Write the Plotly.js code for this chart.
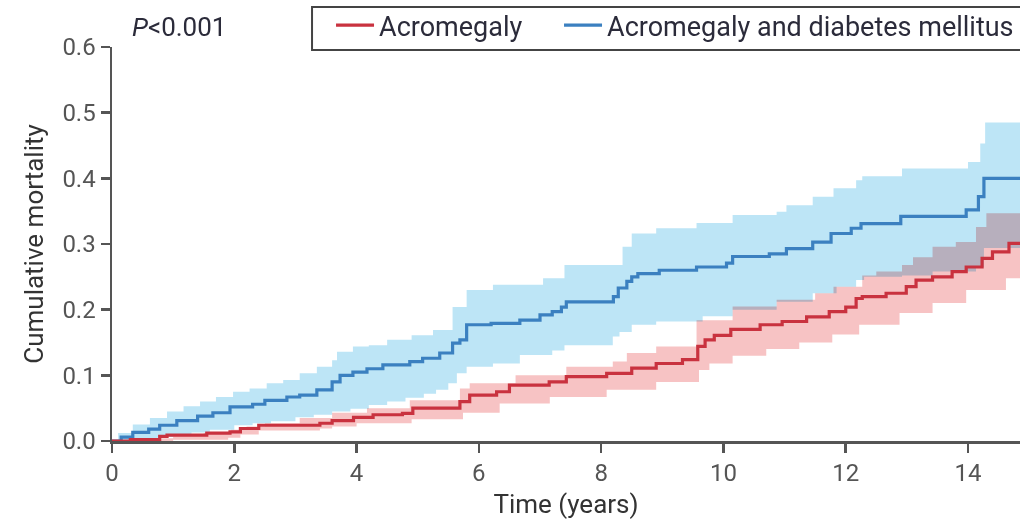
<!DOCTYPE html>
<html>
<head>
<meta charset="utf-8">
<script src="https://cdn.plot.ly/plotly-3.0.1.min.js"></script>
<style>html,body{margin:0;padding:0;background:#fff;}#chart{width:1020px;height:519px;}</style>
</head>
<body>
<div id="chart"></div>
<script>
// Acromegaly and diabetes mellitus: cumulative mortality (step), with 95% CI
var dmT = [0, 0.15, 0.34, 0.6, 0.78, 1.06, 1.4, 1.65, 1.93, 2.3, 2.5, 2.86, 3.07, 3.35, 3.6, 3.73, 3.94, 4.17, 4.43, 4.87, 5.08, 5.36, 5.57, 5.69, 5.8, 6.2, 6.67, 7.0, 7.2, 7.35, 7.43, 8.2, 8.28, 8.42, 8.5, 8.6, 8.95, 9.56, 10.05, 10.15, 10.75, 11.03, 11.46, 11.76, 12.09, 12.25, 12.9, 13.97, 14.17, 14.26, 14.85];
var dmY = [0, 0.006, 0.013, 0.018, 0.024, 0.031, 0.038, 0.043, 0.052, 0.056, 0.062, 0.067, 0.070, 0.078, 0.090, 0.100, 0.105, 0.110, 0.116, 0.121, 0.126, 0.134, 0.149, 0.154, 0.177, 0.179, 0.184, 0.192, 0.197, 0.204, 0.212, 0.220, 0.233, 0.243, 0.250, 0.255, 0.260, 0.265, 0.271, 0.281, 0.285, 0.293, 0.303, 0.316, 0.324, 0.331, 0.342, 0.352, 0.372, 0.400, 0.400];
var dmHiT = [0, 0.1, 0.34, 0.62, 0.9, 1.17, 1.44, 1.7, 1.98, 2.25, 2.53, 2.8, 3.07, 3.35, 3.6, 3.68, 3.94, 4.2, 4.5, 4.9, 5.25, 5.57, 5.8, 6.23, 7.05, 7.4, 8.35, 8.5, 8.9, 9.56, 10.15, 10.87, 11.03, 11.46, 11.8, 12.17, 12.27, 12.92, 14.0, 14.2, 14.28, 14.85];
var dmHiY = [0, 0.012, 0.025, 0.035, 0.045, 0.053, 0.060, 0.067, 0.075, 0.080, 0.088, 0.093, 0.103, 0.113, 0.123, 0.136, 0.144, 0.146, 0.154, 0.161, 0.169, 0.204, 0.230, 0.238, 0.248, 0.268, 0.296, 0.316, 0.324, 0.332, 0.344, 0.349, 0.359, 0.372, 0.385, 0.397, 0.403, 0.415, 0.425, 0.453, 0.485, 0.485];
var dmLoT = [0, 0.5, 0.75, 1.0, 1.3, 1.6, 2.0, 2.3, 2.6, 3.0, 3.3, 3.6, 3.9, 4.2, 4.5, 4.8, 5.1, 5.3, 5.5, 5.64, 5.8, 6.23, 6.67, 7.2, 7.4, 8.19, 8.3, 8.5, 8.9, 9.66, 10.15, 10.87, 11.46, 11.85, 12.17, 12.3, 12.92, 13.42, 14.13, 14.26, 14.85];
var dmLoY = [0, 0.002, 0.006, 0.010, 0.013, 0.017, 0.024, 0.027, 0.030, 0.036, 0.040, 0.045, 0.049, 0.055, 0.060, 0.066, 0.072, 0.078, 0.088, 0.103, 0.113, 0.118, 0.131, 0.138, 0.146, 0.159, 0.166, 0.177, 0.182, 0.190, 0.200, 0.212, 0.225, 0.235, 0.245, 0.250, 0.252, 0.258, 0.265, 0.294, 0.294];

// Acromegaly: cumulative mortality (step), with 95% CI
var acT = [0, 0.3, 0.78, 0.9, 1.55, 1.93, 2.1, 2.4, 3.4, 3.6, 3.95, 4.27, 4.75, 4.92, 5.69, 5.85, 6.29, 6.5, 7.15, 7.43, 8.09, 8.5, 8.9, 9.33, 9.58, 9.7, 9.85, 10.12, 10.6, 10.96, 11.36, 11.73, 12.0, 12.17, 12.27, 12.66, 12.99, 13.15, 13.42, 13.74, 13.97, 14.23, 14.4, 14.67, 14.85];
var acY = [0, 0.002, 0.007, 0.009, 0.012, 0.014, 0.019, 0.024, 0.027, 0.031, 0.036, 0.040, 0.042, 0.050, 0.060, 0.070, 0.075, 0.085, 0.090, 0.098, 0.103, 0.111, 0.118, 0.124, 0.144, 0.154, 0.161, 0.170, 0.177, 0.182, 0.189, 0.197, 0.204, 0.217, 0.220, 0.225, 0.235, 0.245, 0.250, 0.258, 0.265, 0.278, 0.288, 0.301, 0.301];
var acHiT = [0, 0.5, 1.0, 1.5, 1.95, 2.2, 2.5, 3.07, 3.6, 4.17, 4.87, 5.69, 5.85, 6.6, 7.43, 8.19, 8.42, 8.9, 9.56, 10.15, 10.87, 11.5, 11.8, 12.27, 12.5, 12.92, 13.1, 13.42, 13.8, 14.13, 14.3, 14.85];
var acHiY = [0, 0.004, 0.008, 0.012, 0.017, 0.022, 0.027, 0.035, 0.043, 0.050, 0.062, 0.080, 0.088, 0.100, 0.113, 0.121, 0.134, 0.144, 0.184, 0.205, 0.215, 0.225, 0.235, 0.252, 0.258, 0.268, 0.280, 0.296, 0.303, 0.326, 0.347, 0.347];
var acLoT = [0, 1.0, 1.9, 2.1, 2.4, 3.4, 3.6, 4.0, 4.9, 5.74, 6.34, 7.16, 8.09, 8.9, 9.6, 9.77, 10.15, 10.7, 11.24, 11.78, 12.22, 12.88, 13.42, 13.97, 14.62, 14.85];
var acLoY = [0, 0.002, 0.005, 0.010, 0.016, 0.019, 0.022, 0.027, 0.033, 0.043, 0.057, 0.067, 0.078, 0.090, 0.108, 0.118, 0.130, 0.140, 0.150, 0.162, 0.177, 0.195, 0.210, 0.230, 0.248, 0.248];

var seriesNames = ['Acromegaly', 'Acromegaly and diabetes mellitus'];
var xTicks = [0, 2, 4, 6, 8, 10, 12, 14];
var yTicks = [0.0, 0.1, 0.2, 0.3, 0.4, 0.5, 0.6];
var pText = '<i>P</i>&lt;0.001';

var BLUE = '#3b80c0', BLUE_BAND = '#bde5f6';
var RED = '#c9323f', RED_BAND = '#f7c3c4';
var FONT = 'Roboto, Arial, sans-serif';

function band(t, y) {
  return {x: t, y: y, mode: 'lines', line: {width: 0, shape: 'hv'}, showlegend: false, hoverinfo: 'skip'};
}
var dmLo = band(dmLoT, dmLoY);
var dmHi = band(dmHiT, dmHiY); dmHi.fill = 'tonexty'; dmHi.fillcolor = BLUE_BAND;
var acLo = band(acLoT, acLoY);
var acHi = band(acHiT, acHiY); acHi.fill = 'tonexty'; acHi.fillcolor = RED_BAND;

var acLine = {x: acT, y: acY, name: seriesNames[0], legendrank: 1, legendwidth: 157, mode: 'lines', line: {color: RED, width: 3.2, shape: 'hv'}};
var dmLine = {x: dmT, y: dmY, name: seriesNames[1], legendrank: 2, mode: 'lines', line: {color: BLUE, width: 3.2, shape: 'hv'}};

var axisCommon = {
  showgrid: false, zeroline: false, showline: true, linecolor: '#555', linewidth: 2.5,
  ticks: 'outside', ticklen: 9, tickwidth: 2.5, tickcolor: '#555',
  tickfont: {family: FONT, size: 24, color: '#555'}
};

var layout = {
  width: 1020, height: 519,
  margin: {l: 112, r: 0, t: 47, b: 78, autoexpand: false},
  paper_bgcolor: '#fff', plot_bgcolor: '#fff',
  font: {family: FONT, color: '#333'},
  xaxis: Object.assign({}, axisCommon, {
    range: [0, 14.85], tickvals: xTicks, ticktext: xTicks.map(String),
    title: {text: 'Time (years)', font: {size: 26, color: '#333'}, standoff: 10}
  }),
  yaxis: Object.assign({}, axisCommon, {
    range: [0, 0.6], tickvals: yTicks, ticktext: yTicks.map(function (v) { return v.toFixed(1); }),
    title: {text: 'Cumulative mortality', font: {size: 26, color: '#333'}, standoff: 12}
  }),
  showlegend: true,
  legend: {
    orientation: 'h', x: 0.2214, xanchor: 'left', y: 1.1168, yanchor: 'top',
    bgcolor: 'rgba(0,0,0,0)', borderwidth: 0,
    itemwidth: 38, indentation: 18,
    font: {family: FONT, size: 27, color: '#2b2b3a'},
    traceorder: 'normal'
  },
  shapes: [{
    type: 'rect', xref: 'paper', yref: 'paper', layer: 'above',
    x0: 0.2203, x1: 1.05, y0: 0.9924, y1: 1.1015,
    line: {color: '#444', width: 2}, fillcolor: '#fff'
  }],
  annotations: [{
    xref: 'paper', yref: 'paper', x: 0.0198, y: 1.0508, xanchor: 'left', yanchor: 'middle',
    text: pText, showarrow: false, font: {family: FONT, size: 26, color: '#2b2b3a'}
  }]
};

Plotly.newPlot('chart', [dmLo, dmHi, acLo, acHi, dmLine, acLine], layout, {staticPlot: true, displayModeBar: false}).then(function () {
  document.querySelectorAll('#chart path.js-fill').forEach(function (p) { p.style.mixBlendMode = 'multiply'; });
});
</script>
</body>
</html>
